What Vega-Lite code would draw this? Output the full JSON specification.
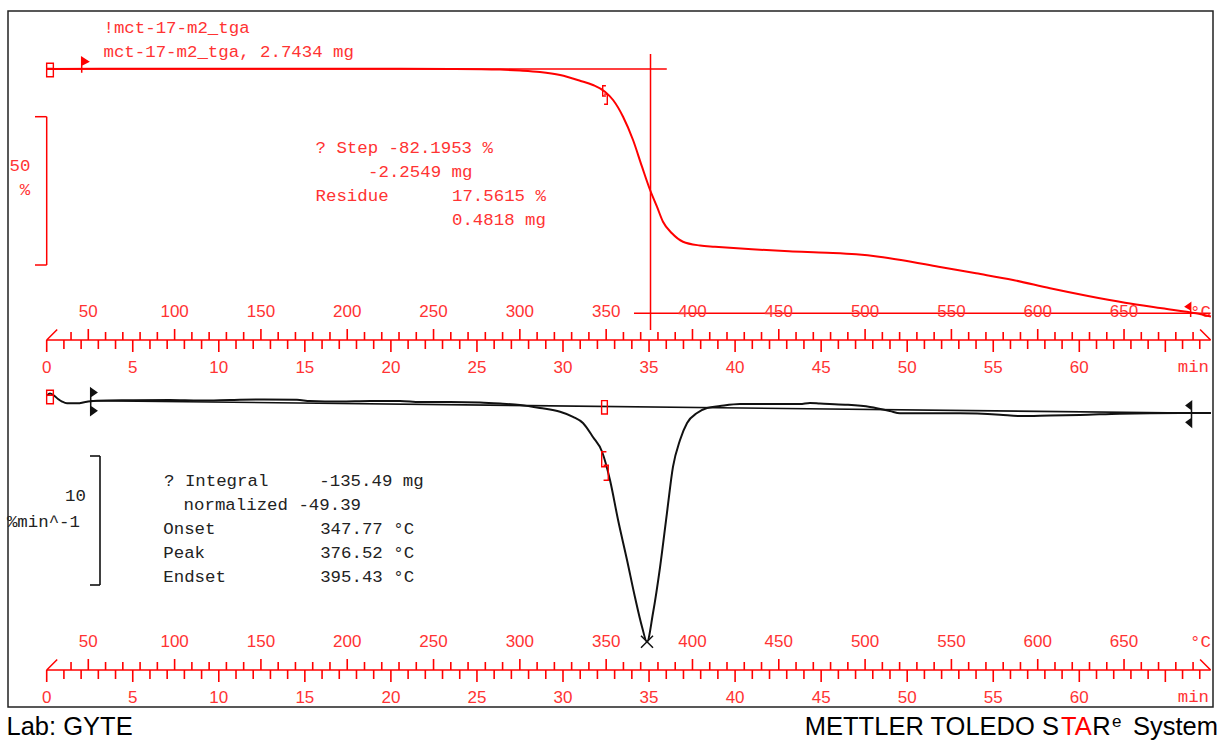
{
"$schema":"https://vega.github.io/schema/vega-lite/v6.json",
"width":1205,"height":696,
"autosize":{"type":"none"},
"padding":{"left":8,"top":11,"right":8,"bottom":33},
"background":"white",
"config":{"view":{"stroke":"#222222","strokeWidth":1.5},"font":"Liberation Sans"},
"datasets":{
"tt":[{"T":40,"m":0},{"T":50,"m":1},{"T":60,"m":0},{"T":70,"m":0},{"T":80,"m":0},{"T":90,"m":0},{"T":100,"m":1},{"T":110,"m":0},{"T":120,"m":0},{"T":130,"m":0},{"T":140,"m":0},{"T":150,"m":1},{"T":160,"m":0},{"T":170,"m":0},{"T":180,"m":0},{"T":190,"m":0},{"T":200,"m":1},{"T":210,"m":0},{"T":220,"m":0},{"T":230,"m":0},{"T":240,"m":0},{"T":250,"m":1},{"T":260,"m":0},{"T":270,"m":0},{"T":280,"m":0},{"T":290,"m":0},{"T":300,"m":1},{"T":310,"m":0},{"T":320,"m":0},{"T":330,"m":0},{"T":340,"m":0},{"T":350,"m":1},{"T":360,"m":0},{"T":370,"m":0},{"T":380,"m":0},{"T":390,"m":0},{"T":400,"m":1},{"T":410,"m":0},{"T":420,"m":0},{"T":430,"m":0},{"T":440,"m":0},{"T":450,"m":1},{"T":460,"m":0},{"T":470,"m":0},{"T":480,"m":0},{"T":490,"m":0},{"T":500,"m":1},{"T":510,"m":0},{"T":520,"m":0},{"T":530,"m":0},{"T":540,"m":0},{"T":550,"m":1},{"T":560,"m":0},{"T":570,"m":0},{"T":580,"m":0},{"T":590,"m":0},{"T":600,"m":1},{"T":610,"m":0},{"T":620,"m":0},{"T":630,"m":0},{"T":640,"m":0},{"T":650,"m":1},{"T":660,"m":0},{"T":670,"m":0},{"T":680,"m":0},{"T":690,"m":0}],
"mt":[{"t":0,"m":1},{"t":1,"m":0},{"t":2,"m":0},{"t":3,"m":0},{"t":4,"m":0},{"t":5,"m":1},{"t":6,"m":0},{"t":7,"m":0},{"t":8,"m":0},{"t":9,"m":0},{"t":10,"m":1},{"t":11,"m":0},{"t":12,"m":0},{"t":13,"m":0},{"t":14,"m":0},{"t":15,"m":1},{"t":16,"m":0},{"t":17,"m":0},{"t":18,"m":0},{"t":19,"m":0},{"t":20,"m":1},{"t":21,"m":0},{"t":22,"m":0},{"t":23,"m":0},{"t":24,"m":0},{"t":25,"m":1},{"t":26,"m":0},{"t":27,"m":0},{"t":28,"m":0},{"t":29,"m":0},{"t":30,"m":1},{"t":31,"m":0},{"t":32,"m":0},{"t":33,"m":0},{"t":34,"m":0},{"t":35,"m":1},{"t":36,"m":0},{"t":37,"m":0},{"t":38,"m":0},{"t":39,"m":0},{"t":40,"m":1},{"t":41,"m":0},{"t":42,"m":0},{"t":43,"m":0},{"t":44,"m":0},{"t":45,"m":1},{"t":46,"m":0},{"t":47,"m":0},{"t":48,"m":0},{"t":49,"m":0},{"t":50,"m":1},{"t":51,"m":0},{"t":52,"m":0},{"t":53,"m":0},{"t":54,"m":0},{"t":55,"m":1},{"t":56,"m":0},{"t":57,"m":0},{"t":58,"m":0},{"t":59,"m":0},{"t":60,"m":1},{"t":61,"m":0},{"t":62,"m":0},{"t":63,"m":0},{"t":64,"m":0},{"t":65,"m":1},{"t":66,"m":0},{"t":67,"m":0}],
"tga":[{"t":0.02,"v":100.0},{"t":3.10,"v":100.05},{"t":8.91,"v":100.08},{"t":14.72,"v":100.08},{"t":20.53,"v":100.06},{"t":23.43,"v":100.0},{"t":26.34,"v":99.80},{"t":27.50,"v":99.49},{"t":28.66,"v":98.99},{"t":29.83,"v":97.97},{"t":30.99,"v":96.05},{"t":31.74,"v":94.60},{"t":32.44,"v":92.34},{"t":32.91,"v":89.54},{"t":33.49,"v":83.90},{"t":34.07,"v":76.04},{"t":34.59,"v":67.03},{"t":35.06,"v":59.16},{"t":35.46,"v":53.53},{"t":35.81,"v":48.46},{"t":36.33,"v":44.55},{"t":36.97,"v":41.71},{"t":37.96,"v":40.43},{"t":38.83,"v":40.03},{"t":40.98,"v":39.15},{"t":43.13,"v":38.47},{"t":45.34,"v":38.00},{"t":47.03,"v":37.46},{"t":48.36,"v":36.65},{"t":49.64,"v":35.54},{"t":51.82,"v":33.28},{"t":54.00,"v":31.05},{"t":56.15,"v":28.79},{"t":58.30,"v":25.99},{"t":60.51,"v":23.39},{"t":62.66,"v":21.13},{"t":64.81,"v":19.24},{"t":66.78,"v":17.55},{"t":67.65,"v":16.47}],
"dtg":[{"t":0.02,"v":0.35},{"t":0.19,"v":0.50},{"t":0.42,"v":0.35},{"t":0.66,"v":0.08},{"t":0.89,"v":-0.12},{"t":1.18,"v":-0.26},{"t":1.76,"v":-0.26},{"t":2.34,"v":-0.13},{"t":2.92,"v":-0.05},{"t":4.84,"v":-0.02},{"t":7.16,"v":0.0},{"t":8.91,"v":-0.04},{"t":10.65,"v":0.0},{"t":12.39,"v":0.04},{"t":14.54,"v":0.02},{"t":15.30,"v":-0.08},{"t":17.04,"v":-0.12},{"t":18.79,"v":-0.08},{"t":20.53,"v":-0.08},{"t":21.69,"v":-0.16},{"t":23.43,"v":-0.16},{"t":25.18,"v":-0.19},{"t":26.34,"v":-0.27},{"t":27.50,"v":-0.39},{"t":28.66,"v":-0.62},{"t":29.83,"v":-0.91},{"t":30.58,"v":-1.30},{"t":31.16,"v":-1.78},{"t":31.74,"v":-2.87},{"t":32.27,"v":-4.01},{"t":32.73,"v":-6.20},{"t":33.20,"v":-9.30},{"t":33.72,"v":-12.40},{"t":34.18,"v":-15.27},{"t":34.59,"v":-17.57},{"t":34.88,"v":-18.74},{"t":35.23,"v":-16.51},{"t":35.64,"v":-12.95},{"t":36.04,"v":-8.76},{"t":36.39,"v":-5.19},{"t":36.80,"v":-3.10},{"t":37.21,"v":-1.78},{"t":37.79,"v":-1.01},{"t":38.37,"v":-0.62},{"t":39.12,"v":-0.47},{"t":40.29,"v":-0.31},{"t":41.45,"v":-0.31},{"t":43.77,"v":-0.31},{"t":44.35,"v":-0.23},{"t":44.93,"v":-0.27},{"t":46.39,"v":-0.36},{"t":47.84,"v":-0.54},{"t":49.00,"v":-0.85},{"t":49.58,"v":-1.03},{"t":53.07,"v":-1.03},{"t":55.39,"v":-1.14},{"t":56.55,"v":-1.24},{"t":58.30,"v":-1.20},{"t":60.04,"v":-1.16},{"t":62.36,"v":-1.06},{"t":65.85,"v":-1.01},{"t":67.65,"v":-1.01}]
},
"resolve":{"scale":{"x":"independent","y":"independent"}},
"layer":[
{"data":{"values":[{"x1":0.19,"x2":36.03,"y1":100,"y2":100},{"x1":35.085,"x2":35.085,"y1":105.06,"y2":11.91},{"x1":34.125,"x2":67.63,"y1":17.56,"y2":17.56},{"x1":-0.68,"x2":0,"y1":83.9,"y2":83.9},{"x1":0,"x2":0,"y1":83.9,"y2":33.85},{"x1":-0.68,"x2":0,"y1":33.85,"y2":33.85}]},
 "mark":{"type":"rule","color":"#ff0000","strokeWidth":1.5},
 "encoding":{"x":{"field":"x1","type":"quantitative","scale":{"domain":[-2.2487,67.769],"nice":false,"zero":false},"axis":null},"x2":{"field":"x2"},"y":{"field":"y1","type":"quantitative","scale":{"domain":[-115.32,119.575],"nice":false,"zero":false},"axis":null},"y2":{"field":"y2"}}},
{"data":{"values":[{"x1":2.557,"x2":67.652,"y1":-0.054,"y2":-1.031},{"x1":2.516,"x2":3.097,"y1":-4.341,"y2":-4.341},{"x1":3.097,"x2":3.097,"y1":-4.341,"y2":-14.341},{"x1":2.516,"x2":3.097,"y1":-14.341,"y2":-14.341}]},
 "mark":{"type":"rule","color":"#111111","strokeWidth":1.6},
 "encoding":{"x":{"field":"x1","type":"quantitative","scale":{"domain":[-2.2487,67.769],"nice":false,"zero":false},"axis":null},"x2":{"field":"x2"},"y":{"field":"y1","type":"quantitative","scale":{"domain":[-23.798,30.155],"nice":false,"zero":false},"axis":null},"y2":{"field":"y2"}}},

{"data":{"values":[{"a":0,"b":67.63}]},"mark":{"type":"rule","color":"#ff0000","strokeWidth":1.6},
 "encoding":{"x":{"field":"a","type":"quantitative","scale":{"domain":[-2.2487,67.769],"nice":false,"zero":false},"axis":null},"x2":{"field":"b"},"y":{"datum":"TGA","type":"nominal","scale":{"type":"point","domain":["TGA","DTG"],"range":[329,659],"padding":0},"axis":null}}},
{"data":{"values":[{"a":0,"b":67.63}]},"mark":{"type":"rule","color":"#ff0000","strokeWidth":1.6},
 "encoding":{"x":{"field":"a","type":"quantitative","scale":{"domain":[-2.2487,67.769],"nice":false,"zero":false},"axis":null},"x2":{"field":"b"},"y":{"datum":"DTG","type":"nominal","scale":{"type":"point","domain":["TGA","DTG"],"range":[329,659],"padding":0},"axis":null}}},

{"data":{"name":"tt"},"transform":[{"filter":"datum.m==1"}],"mark":{"type":"tick","orient":"vertical","color":"#ff0000","size":11,"thickness":1.6,"yOffset":-5.5,"opacity":1},
 "encoding":{"x":{"field":"T","type":"quantitative","scale":{"domain":[3.482,701.54],"nice":false,"zero":false},"axis":null},"y":{"datum":"TGA","type":"nominal","scale":{"type":"point","domain":["TGA","DTG"],"range":[329,659],"padding":0},"axis":null}}},
{"data":{"name":"tt"},"transform":[{"filter":"datum.m==0"}],"mark":{"type":"tick","orient":"vertical","color":"#ff0000","size":8,"thickness":1.6,"yOffset":-4,"opacity":1},
 "encoding":{"x":{"field":"T","type":"quantitative","scale":{"domain":[3.482,701.54],"nice":false,"zero":false},"axis":null},"y":{"datum":"TGA","type":"nominal","scale":{"type":"point","domain":["TGA","DTG"],"range":[329,659],"padding":0},"axis":null}}},
{"data":{"name":"mt"},"transform":[{"filter":"datum.m==1"}],"mark":{"type":"tick","orient":"vertical","color":"#ff0000","size":12,"thickness":1.6,"yOffset":6,"opacity":1},
 "encoding":{"x":{"field":"t","type":"quantitative","scale":{"domain":[-2.2487,67.769],"nice":false,"zero":false},"axis":null},"y":{"datum":"TGA","type":"nominal","scale":{"type":"point","domain":["TGA","DTG"],"range":[329,659],"padding":0},"axis":null}}},
{"data":{"name":"mt"},"transform":[{"filter":"datum.m==0"}],"mark":{"type":"tick","orient":"vertical","color":"#ff0000","size":9,"thickness":1.6,"yOffset":4.5,"opacity":1},
 "encoding":{"x":{"field":"t","type":"quantitative","scale":{"domain":[-2.2487,67.769],"nice":false,"zero":false},"axis":null},"y":{"datum":"TGA","type":"nominal","scale":{"type":"point","domain":["TGA","DTG"],"range":[329,659],"padding":0},"axis":null}}},
{"data":{"name":"tt"},"transform":[{"filter":"datum.m==1"}],"mark":{"type":"text","align":"center","baseline":"alphabetic","dy":-22.7,"font":"Liberation Sans","fontSize":17,"color":"#ff3333"},
 "encoding":{"x":{"field":"T","type":"quantitative","scale":{"domain":[3.482,701.54],"nice":false,"zero":false},"axis":null},"y":{"datum":"TGA","type":"nominal","scale":{"type":"point","domain":["TGA","DTG"],"range":[329,659],"padding":0},"axis":null},"text":{"field":"T","type":"quantitative","format":"d"}}},
{"data":{"name":"mt"},"transform":[{"filter":"datum.m==1 && datum.t<=60"}],"mark":{"type":"text","align":"center","baseline":"alphabetic","dy":33.3,"font":"Liberation Sans","fontSize":17,"color":"#ff3333"},
 "encoding":{"x":{"field":"t","type":"quantitative","scale":{"domain":[-2.2487,67.769],"nice":false,"zero":false},"axis":null},"y":{"datum":"TGA","type":"nominal","scale":{"type":"point","domain":["TGA","DTG"],"range":[329,659],"padding":0},"axis":null},"text":{"field":"t","type":"quantitative","format":"d"}}},
{"data":{"values":[{"t":67.652,"u":"°C"}]},"mark":{"type":"text","align":"right","baseline":"alphabetic","dy":-23,"font":"Liberation Mono","fontSize":17.4,"color":"#ff3333"},
 "encoding":{"x":{"field":"t","type":"quantitative","scale":{"domain":[-2.2487,67.769],"nice":false,"zero":false},"axis":null},"y":{"datum":"TGA","type":"nominal","scale":{"type":"point","domain":["TGA","DTG"],"range":[329,659],"padding":0},"axis":null},"text":{"field":"u","type":"nominal"}}},
{"data":{"values":[{"t":67.54,"u":"min"}]},"mark":{"type":"text","align":"right","baseline":"alphabetic","dy":31.7,"font":"Liberation Mono","fontSize":17.4,"color":"#ff3333"},
 "encoding":{"x":{"field":"t","type":"quantitative","scale":{"domain":[-2.2487,67.769],"nice":false,"zero":false},"axis":null},"y":{"datum":"TGA","type":"nominal","scale":{"type":"point","domain":["TGA","DTG"],"range":[329,659],"padding":0},"axis":null},"text":{"field":"u","type":"nominal"}}},
{"data":{"values":[{"t":0}]},"mark":{"type":"point","shape":"M0,0L1,-1","size":441,"filled":false,"color":"#ff0000","strokeWidth":1.5,"opacity":1},
 "encoding":{"x":{"field":"t","type":"quantitative","scale":{"domain":[-2.2487,67.769],"nice":false,"zero":false},"axis":null},"y":{"datum":"TGA","type":"nominal","scale":{"type":"point","domain":["TGA","DTG"],"range":[329,659],"padding":0},"axis":null}}},
{"data":{"values":[{"t":67.63}]},"mark":{"type":"point","shape":"M-1,-1L0,0","size":441,"filled":false,"color":"#ff0000","strokeWidth":1.5,"opacity":1},
 "encoding":{"x":{"field":"t","type":"quantitative","scale":{"domain":[-2.2487,67.769],"nice":false,"zero":false},"axis":null},"y":{"datum":"TGA","type":"nominal","scale":{"type":"point","domain":["TGA","DTG"],"range":[329,659],"padding":0},"axis":null}}},

{"data":{"name":"tt"},"transform":[{"filter":"datum.m==1"}],"mark":{"type":"tick","orient":"vertical","color":"#ff0000","size":11,"thickness":1.6,"yOffset":-5.5,"opacity":1},
 "encoding":{"x":{"field":"T","type":"quantitative","scale":{"domain":[3.482,701.54],"nice":false,"zero":false},"axis":null},"y":{"datum":"DTG","type":"nominal","scale":{"type":"point","domain":["TGA","DTG"],"range":[329,659],"padding":0},"axis":null}}},
{"data":{"name":"tt"},"transform":[{"filter":"datum.m==0"}],"mark":{"type":"tick","orient":"vertical","color":"#ff0000","size":8,"thickness":1.6,"yOffset":-4,"opacity":1},
 "encoding":{"x":{"field":"T","type":"quantitative","scale":{"domain":[3.482,701.54],"nice":false,"zero":false},"axis":null},"y":{"datum":"DTG","type":"nominal","scale":{"type":"point","domain":["TGA","DTG"],"range":[329,659],"padding":0},"axis":null}}},
{"data":{"name":"mt"},"transform":[{"filter":"datum.m==1"}],"mark":{"type":"tick","orient":"vertical","color":"#ff0000","size":12,"thickness":1.6,"yOffset":6,"opacity":1},
 "encoding":{"x":{"field":"t","type":"quantitative","scale":{"domain":[-2.2487,67.769],"nice":false,"zero":false},"axis":null},"y":{"datum":"DTG","type":"nominal","scale":{"type":"point","domain":["TGA","DTG"],"range":[329,659],"padding":0},"axis":null}}},
{"data":{"name":"mt"},"transform":[{"filter":"datum.m==0"}],"mark":{"type":"tick","orient":"vertical","color":"#ff0000","size":9,"thickness":1.6,"yOffset":4.5,"opacity":1},
 "encoding":{"x":{"field":"t","type":"quantitative","scale":{"domain":[-2.2487,67.769],"nice":false,"zero":false},"axis":null},"y":{"datum":"DTG","type":"nominal","scale":{"type":"point","domain":["TGA","DTG"],"range":[329,659],"padding":0},"axis":null}}},
{"data":{"name":"tt"},"transform":[{"filter":"datum.m==1"}],"mark":{"type":"text","align":"center","baseline":"alphabetic","dy":-22.7,"font":"Liberation Sans","fontSize":17,"color":"#ff3333"},
 "encoding":{"x":{"field":"T","type":"quantitative","scale":{"domain":[3.482,701.54],"nice":false,"zero":false},"axis":null},"y":{"datum":"DTG","type":"nominal","scale":{"type":"point","domain":["TGA","DTG"],"range":[329,659],"padding":0},"axis":null},"text":{"field":"T","type":"quantitative","format":"d"}}},
{"data":{"name":"mt"},"transform":[{"filter":"datum.m==1 && datum.t<=60"}],"mark":{"type":"text","align":"center","baseline":"alphabetic","dy":33.3,"font":"Liberation Sans","fontSize":17,"color":"#ff3333"},
 "encoding":{"x":{"field":"t","type":"quantitative","scale":{"domain":[-2.2487,67.769],"nice":false,"zero":false},"axis":null},"y":{"datum":"DTG","type":"nominal","scale":{"type":"point","domain":["TGA","DTG"],"range":[329,659],"padding":0},"axis":null},"text":{"field":"t","type":"quantitative","format":"d"}}},
{"data":{"values":[{"t":67.652,"u":"°C"}]},"mark":{"type":"text","align":"right","baseline":"alphabetic","dy":-23,"font":"Liberation Mono","fontSize":17.4,"color":"#ff3333"},
 "encoding":{"x":{"field":"t","type":"quantitative","scale":{"domain":[-2.2487,67.769],"nice":false,"zero":false},"axis":null},"y":{"datum":"DTG","type":"nominal","scale":{"type":"point","domain":["TGA","DTG"],"range":[329,659],"padding":0},"axis":null},"text":{"field":"u","type":"nominal"}}},
{"data":{"values":[{"t":67.54,"u":"min"}]},"mark":{"type":"text","align":"right","baseline":"alphabetic","dy":31.7,"font":"Liberation Mono","fontSize":17.4,"color":"#ff3333"},
 "encoding":{"x":{"field":"t","type":"quantitative","scale":{"domain":[-2.2487,67.769],"nice":false,"zero":false},"axis":null},"y":{"datum":"DTG","type":"nominal","scale":{"type":"point","domain":["TGA","DTG"],"range":[329,659],"padding":0},"axis":null},"text":{"field":"u","type":"nominal"}}},
{"data":{"values":[{"t":0}]},"mark":{"type":"point","shape":"M0,0L1,-1","size":441,"filled":false,"color":"#ff0000","strokeWidth":1.5,"opacity":1},
 "encoding":{"x":{"field":"t","type":"quantitative","scale":{"domain":[-2.2487,67.769],"nice":false,"zero":false},"axis":null},"y":{"datum":"DTG","type":"nominal","scale":{"type":"point","domain":["TGA","DTG"],"range":[329,659],"padding":0},"axis":null}}},
{"data":{"values":[{"t":67.63}]},"mark":{"type":"point","shape":"M-1,-1L0,0","size":441,"filled":false,"color":"#ff0000","strokeWidth":1.5,"opacity":1},
 "encoding":{"x":{"field":"t","type":"quantitative","scale":{"domain":[-2.2487,67.769],"nice":false,"zero":false},"axis":null},"y":{"datum":"DTG","type":"nominal","scale":{"type":"point","domain":["TGA","DTG"],"range":[329,659],"padding":0},"axis":null}}},

{"data":{"name":"tga"},"mark":{"type":"line","color":"#ff0000","strokeWidth":2,"interpolate":"monotone"},
 "encoding":{"x":{"field":"t","type":"quantitative","scale":{"domain":[-2.2487,67.769],"nice":false,"zero":false},"axis":null},"y":{"field":"v","type":"quantitative","scale":{"domain":[-115.32,119.575],"nice":false,"zero":false},"axis":null}}},
{"data":{"name":"dtg"},"mark":{"type":"line","color":"#111111","strokeWidth":2,"interpolate":"monotone"},
 "encoding":{"x":{"field":"t","type":"quantitative","scale":{"domain":[-2.2487,67.769],"nice":false,"zero":false},"axis":null},"y":{"field":"v","type":"quantitative","scale":{"domain":[-23.798,30.155],"nice":false,"zero":false},"axis":null}}},

{"data":{"values":[{"t":0.192,"v":99.66}]},"mark":{"type":"point","shape":"M-0.5,-1H0.5V1H-0.5ZM-0.5,-0.25H0.5","size":180,"filled":false,"color":"#ff0000","strokeWidth":1.4,"opacity":1},
 "encoding":{"x":{"field":"t","type":"quantitative","scale":{"domain":[-2.2487,67.769],"nice":false,"zero":false},"axis":null},"y":{"field":"v","type":"quantitative","scale":{"domain":[-115.32,119.575],"nice":false,"zero":false},"axis":null}}},
{"data":{"values":[{"t":2.034,"v":100}]},"mark":{"type":"point","shape":"M0,-1V0.3M0,-0.95L0.54,-0.6L0,-0.33Z","size":605,"fill":"#ff0000","stroke":"#ff0000","strokeWidth":1.5,"opacity":1},
 "encoding":{"x":{"field":"t","type":"quantitative","scale":{"domain":[-2.2487,67.769],"nice":false,"zero":false},"axis":null},"y":{"field":"v","type":"quantitative","scale":{"domain":[-115.32,119.575],"nice":false,"zero":false},"axis":null}}},
{"data":{"values":[{"t":32.44,"v":91.22}]},"mark":{"type":"point","shape":"M0.1,-1H-0.25V0.1H0.1M-0.1,-0.1H0.25V1H-0.1","size":339,"filled":false,"color":"#ff0000","strokeWidth":1.4,"opacity":1},
 "encoding":{"x":{"field":"t","type":"quantitative","scale":{"domain":[-2.2487,67.769],"nice":false,"zero":false},"axis":null},"y":{"field":"v","type":"quantitative","scale":{"domain":[-115.32,119.575],"nice":false,"zero":false},"axis":null}}},
{"data":{"values":[{"t":66.47,"v":17.55}]},"mark":{"type":"point","shape":"M0,-1V0.36M0,-1L-0.5,-0.65L0,-0.35Z","size":424,"fill":"#ff0000","stroke":"#ff0000","strokeWidth":1.5,"opacity":1},
 "encoding":{"x":{"field":"t","type":"quantitative","scale":{"domain":[-2.2487,67.769],"nice":false,"zero":false},"axis":null},"y":{"field":"v","type":"quantitative","scale":{"domain":[-115.32,119.575],"nice":false,"zero":false},"axis":null}}},

{"data":{"values":[{"t":0.192,"v":0.233}]},"mark":{"type":"point","shape":"M-0.5,-1H0.5V1H-0.5ZM-0.5,-0.25H0.5","size":180,"filled":false,"color":"#ff0000","strokeWidth":1.4,"opacity":1},
 "encoding":{"x":{"field":"t","type":"quantitative","scale":{"domain":[-2.2487,67.769],"nice":false,"zero":false},"axis":null},"y":{"field":"v","type":"quantitative","scale":{"domain":[-23.798,30.155],"nice":false,"zero":false},"axis":null}}},
{"data":{"values":[{"t":32.41,"v":-0.566}]},"mark":{"type":"point","shape":"M-0.43,-1H0.43V1H-0.43Z","size":177,"filled":false,"color":"#ff0000","strokeWidth":1.4,"opacity":1},
 "encoding":{"x":{"field":"t","type":"quantitative","scale":{"domain":[-2.2487,67.769],"nice":false,"zero":false},"axis":null},"y":{"field":"v","type":"quantitative","scale":{"domain":[-23.798,30.155],"nice":false,"zero":false},"axis":null}}},
{"data":{"values":[{"t":32.44,"v":-5.116}]},"mark":{"type":"point","shape":"M0.1,-1H-0.23V0.05H0.1M-0.1,-0.05H0.23V1H-0.1","size":818,"filled":false,"color":"#ff0000","strokeWidth":1.4,"opacity":1},
 "encoding":{"x":{"field":"t","type":"quantitative","scale":{"domain":[-2.2487,67.769],"nice":false,"zero":false},"axis":null},"y":{"field":"v","type":"quantitative","scale":{"domain":[-23.798,30.155],"nice":false,"zero":false},"axis":null}}},
{"data":{"values":[{"t":2.557,"v":-0.054}]},"mark":{"type":"point","shape":"M0,-0.92V1.06M0,-0.92L0.44,-0.61L0,-0.3ZM0,0.44L0.44,0.74L0,1.06Z","size":729,"fill":"#111111","stroke":"#111111","strokeWidth":1.5,"opacity":1},
 "encoding":{"x":{"field":"t","type":"quantitative","scale":{"domain":[-2.2487,67.769],"nice":false,"zero":false},"axis":null},"y":{"field":"v","type":"quantitative","scale":{"domain":[-23.798,30.155],"nice":false,"zero":false},"axis":null}}},
{"data":{"values":[{"t":66.52,"v":-1.031}]},"mark":{"type":"point","shape":"M0,-0.9V1.03M0,-0.9L-0.4,-0.6L0,-0.3ZM0,0.4L-0.4,0.7L0,1.03Z","size":676,"fill":"#111111","stroke":"#111111","strokeWidth":1.5,"opacity":1},
 "encoding":{"x":{"field":"t","type":"quantitative","scale":{"domain":[-2.2487,67.769],"nice":false,"zero":false},"axis":null},"y":{"field":"v","type":"quantitative","scale":{"domain":[-23.798,30.155],"nice":false,"zero":false},"axis":null}}},
{"data":{"values":[{"t":34.881,"v":-18.736}]},"mark":{"type":"point","shape":"M-1,-1L1,1M-1,1L1,-1","size":144,"filled":false,"color":"#111111","strokeWidth":1.5,"opacity":1},
 "encoding":{"x":{"field":"t","type":"quantitative","scale":{"domain":[-2.2487,67.769],"nice":false,"zero":false},"axis":null},"y":{"field":"v","type":"quantitative","scale":{"domain":[-23.798,30.155],"nice":false,"zero":false},"axis":null}}},

{"data":{"values":[{"t":3.30,"v":112.05,"s":"!mct-17-m2_tga"},{"t":3.30,"v":103.95,"s":"mct-17-m2_tga, 2.7434 mg"},{"t":15.62,"v":71.55,"s":"? Step -82.1953 %"},{"t":18.67,"v":63.45,"s":"-2.2549 mg"},{"t":15.62,"v":55.35,"s":"Residue"},{"t":23.55,"v":55.35,"s":"17.5615 %"},{"t":23.55,"v":47.25,"s":"0.4818 mg"}]},
 "mark":{"type":"text","align":"left","baseline":"alphabetic","font":"Liberation Mono","fontSize":17.4,"color":"#ff3333"},
 "encoding":{"x":{"field":"t","type":"quantitative","scale":{"domain":[-2.2487,67.769],"nice":false,"zero":false},"axis":null},"y":{"field":"v","type":"quantitative","scale":{"domain":[-115.32,119.575],"nice":false,"zero":false},"axis":null},"text":{"field":"s","type":"nominal"}}},
{"data":{"values":[{"t":-1.551,"v":65.74,"s":"50"},{"t":-1.261,"v":57.48,"s":"%"}]},
 "mark":{"type":"text","align":"center","baseline":"alphabetic","font":"Liberation Mono","fontSize":17.4,"color":"#ff3333"},
 "encoding":{"x":{"field":"t","type":"quantitative","scale":{"domain":[-2.2487,67.769],"nice":false,"zero":false},"axis":null},"y":{"field":"v","type":"quantitative","scale":{"domain":[-115.32,119.575],"nice":false,"zero":false},"axis":null},"text":{"field":"s","type":"nominal"}}},
{"data":{"values":[{"t":6.816,"v":-6.667,"s":"? Integral"},{"t":15.84,"v":-6.667,"s":"-135.49 mg"},{"t":7.955,"v":-8.527,"s":"normalized -49.39"},{"t":6.775,"v":-10.411,"s":"Onset"},{"t":15.89,"v":-10.411,"s":"347.77 °C"},{"t":6.775,"v":-12.271,"s":"Peak"},{"t":15.89,"v":-12.271,"s":"376.52 °C"},{"t":6.775,"v":-14.132,"s":"Endset"},{"t":15.89,"v":-14.132,"s":"395.43 °C"}]},
 "mark":{"type":"text","align":"left","baseline":"alphabetic","font":"Liberation Mono","fontSize":17.4,"color":"#222222"},
 "encoding":{"x":{"field":"t","type":"quantitative","scale":{"domain":[-2.2487,67.769],"nice":false,"zero":false},"axis":null},"y":{"field":"v","type":"quantitative","scale":{"domain":[-23.798,30.155],"nice":false,"zero":false},"axis":null},"text":{"field":"s","type":"nominal"}}},
{"data":{"values":[{"t":2.283,"v":-7.791,"s":"10"},{"t":1.935,"v":-9.845,"s":"%min^-1"}]},
 "mark":{"type":"text","align":"right","baseline":"alphabetic","font":"Liberation Mono","fontSize":17.4,"color":"#222222"},
 "encoding":{"x":{"field":"t","type":"quantitative","scale":{"domain":[-2.2487,67.769],"nice":false,"zero":false},"axis":null},"y":{"field":"v","type":"quantitative","scale":{"domain":[-23.798,30.155],"nice":false,"zero":false},"axis":null},"text":{"field":"s","type":"nominal"}}},
{"data":{"values":[{"t":-2.336,"v":-25.969,"s":"Lab: GYTE"},{"t":44.05,"v":-25.969,"s":"METTLER TOLEDO S"},{"t":60.75,"v":-25.969,"s":"R"},{"t":63.12,"v":-25.969,"s":"System"}]},
 "mark":{"type":"text","align":"left","baseline":"alphabetic","font":"Liberation Sans","fontSize":25.5,"color":"#000000"},
 "encoding":{"x":{"field":"t","type":"quantitative","scale":{"domain":[-2.2487,67.769],"nice":false,"zero":false},"axis":null},"y":{"field":"v","type":"quantitative","scale":{"domain":[-23.798,30.155],"nice":false,"zero":false},"axis":null},"text":{"field":"s","type":"nominal"}}},
{"data":{"values":[{"t":58.94,"v":-25.969,"s":"TA"}]},
 "mark":{"type":"text","align":"left","baseline":"alphabetic","font":"Liberation Sans","fontSize":25.5,"color":"#ff0000"},
 "encoding":{"x":{"field":"t","type":"quantitative","scale":{"domain":[-2.2487,67.769],"nice":false,"zero":false},"axis":null},"y":{"field":"v","type":"quantitative","scale":{"domain":[-23.798,30.155],"nice":false,"zero":false},"axis":null},"text":{"field":"s","type":"nominal"}}},
{"data":{"values":[{"t":61.9,"v":-25.31,"s":"e"}]},
 "mark":{"type":"text","align":"left","baseline":"alphabetic","font":"Liberation Sans","fontSize":17,"color":"#000000"},
 "encoding":{"x":{"field":"t","type":"quantitative","scale":{"domain":[-2.2487,67.769],"nice":false,"zero":false},"axis":null},"y":{"field":"v","type":"quantitative","scale":{"domain":[-23.798,30.155],"nice":false,"zero":false},"axis":null},"text":{"field":"s","type":"nominal"}}}
]
}
